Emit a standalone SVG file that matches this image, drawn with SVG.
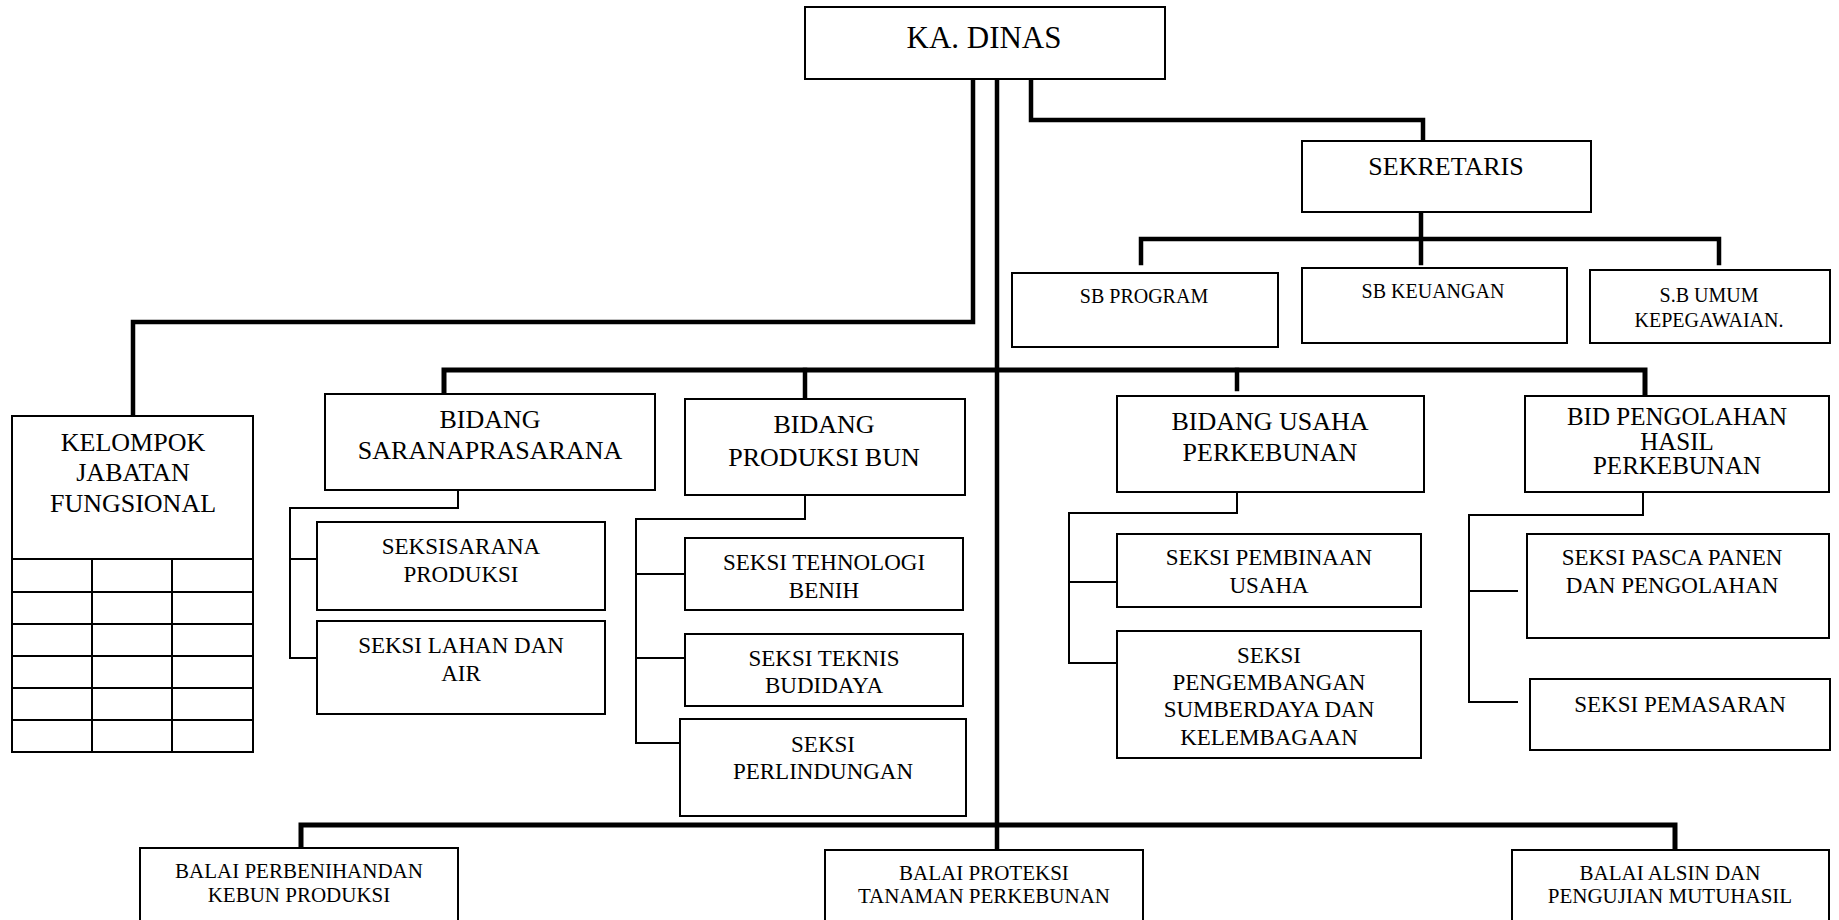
<svg xmlns="http://www.w3.org/2000/svg" width="1839" height="920" viewBox="0 0 1839 920">
<style>
.box{fill:#fff;stroke:#000;stroke-width:2}
.grid{stroke:#000;stroke-width:2;fill:none}
.thick{fill:none;stroke:#000;stroke-width:4.5;stroke-linecap:square}
.bar{fill:none;stroke:#000;stroke-width:5}
.thin{fill:none;stroke:#000;stroke-width:2}
text{font-family:"Times New Roman","Liberation Serif","DejaVu Serif",serif;fill:#000;text-anchor:middle}
.f31{font-size:31px}.f26{font-size:26px}.f25{font-size:25px}.f23{font-size:23px}.f20{font-size:20px}.f21{font-size:21px}
</style>
<rect width="1839" height="920" fill="#fff"/>
<g id="connectors">
<path class="thick" d="M973,79 V322 H133 V416"/>
<path class="thick" d="M997,79 V850"/>
<path class="thick" d="M1031,79 V120 H1423 V141"/>
<path class="thick" d="M1421,212 V263"/>
<path class="thick" d="M1141,263 V239 H1719 V263"/>
<path class="bar" d="M444,394 V370 H1645 V396"/>
<path class="thick" d="M805,370 V399"/>
<path class="thick" d="M1237,370 V389"/>
<path class="bar" d="M301,848 V825 H1675 V850"/>
<path class="thin" d="M458,490 V508 H290 V658 H317 M290,559 H317"/>
<path class="thin" d="M805,495 V519 H636 V743 H686 M636,574 H685 M636,658 H685"/>
<path class="thin" d="M1237,492 V513 H1069 V663 H1117 M1069,582 H1117"/>
<path class="thin" d="M1643,492 V515 H1469 V702 H1518 M1469,591 H1518"/>
</g>
<g id="ka-dinas"><rect class="box" x="805" y="7" width="360" height="72"/><text class="f31" x="984" y="48">KA. DINAS</text></g>
<g id="sekretaris"><rect class="box" x="1302" y="141" width="289" height="71"/><text class="f26" x="1446" y="175">SEKRETARIS</text></g>
<g id="sb-program"><rect class="box" x="1012" y="273" width="266" height="74"/><text class="f20" x="1144" y="303">SB PROGRAM</text></g>
<g id="sb-keuangan"><rect class="box" x="1302" y="268" width="265" height="75"/><text class="f20" x="1433" y="298">SB KEUANGAN</text></g>
<g id="sb-umum"><rect class="box" x="1590" y="270" width="240" height="73"/><text class="f20" x="1709" y="302">S.B UMUM</text><text class="f20" x="1709" y="327">KEPEGAWAIAN.</text></g>
<g id="kelompok">
<rect class="box" x="12" y="416" width="241" height="336"/>
<path class="grid" d="M12,559 H253 M12,592 H253 M12,624 H253 M12,656 H253 M12,688 H253 M12,720 H253 M92,559 V752 M172,559 V752"/>
<text class="f26" x="133" y="451">KELOMPOK</text><text class="f26" x="133" y="481">JABATAN</text><text class="f26" x="133" y="512">FUNGSIONAL</text>
</g>
<g id="bidang-sarana"><rect class="box" x="325" y="394" width="330" height="96"/><text class="f26" x="490" y="428">BIDANG</text><text class="f26" x="490" y="459">SARANAPRASARANA</text></g>
<g id="bidang-produksi"><rect class="box" x="685" y="399" width="280" height="96"/><text class="f26" x="824" y="433">BIDANG</text><text class="f26" x="824" y="466">PRODUKSI BUN</text></g>
<g id="bidang-usaha"><rect class="box" x="1117" y="396" width="307" height="96"/><text class="f26" x="1270" y="430">BIDANG USAHA</text><text class="f26" x="1270" y="461">PERKEBUNAN</text></g>
<g id="bid-pengolahan"><rect class="box" x="1525" y="396" width="304" height="96"/><text class="f25" x="1677" y="425">BID PENGOLAHAN</text><text class="f25" x="1677" y="450">HASIL</text><text class="f25" x="1677" y="474">PERKEBUNAN</text></g>
<g id="seksi-sarana"><rect class="box" x="317" y="522" width="288" height="88"/><text class="f23" x="461" y="554">SEKSISARANA</text><text class="f23" x="461" y="582">PRODUKSI</text></g>
<g id="seksi-lahan"><rect class="box" x="317" y="621" width="288" height="93"/><text class="f23" x="461" y="653">SEKSI LAHAN DAN</text><text class="f23" x="461" y="681">AIR</text></g>
<g id="seksi-tehnologi"><rect class="box" x="685" y="538" width="278" height="72"/><text class="f23" x="824" y="570">SEKSI TEHNOLOGI</text><text class="f23" x="824" y="598">BENIH</text></g>
<g id="seksi-teknis"><rect class="box" x="685" y="634" width="278" height="72"/><text class="f23" x="824" y="666">SEKSI TEKNIS</text><text class="f23" x="824" y="693">BUDIDAYA</text></g>
<g id="seksi-perlindungan"><rect class="box" x="680" y="719" width="286" height="97"/><text class="f23" x="823" y="752">SEKSI</text><text class="f23" x="823" y="779">PERLINDUNGAN</text></g>
<g id="seksi-pembinaan"><rect class="box" x="1117" y="534" width="304" height="73"/><text class="f23" x="1269" y="565">SEKSI PEMBINAAN</text><text class="f23" x="1269" y="593">USAHA</text></g>
<g id="seksi-pengembangan"><rect class="box" x="1117" y="631" width="304" height="127"/><text class="f23" x="1269" y="663">SEKSI</text><text class="f23" x="1269" y="690">PENGEMBANGAN</text><text class="f23" x="1269" y="717">SUMBERDAYA DAN</text><text class="f23" x="1269" y="745">KELEMBAGAAN</text></g>
<g id="seksi-pasca"><rect class="box" x="1527" y="534" width="302" height="104"/><text class="f23" x="1672" y="565">SEKSI PASCA PANEN</text><text class="f23" x="1672" y="593">DAN PENGOLAHAN</text></g>
<g id="seksi-pemasaran"><rect class="box" x="1530" y="679" width="300" height="71"/><text class="f23" x="1680" y="712">SEKSI PEMASARAN</text></g>
<g id="balai-perbenihan"><rect class="box" x="140" y="848" width="318" height="80"/><text class="f21" x="299" y="878">BALAI PERBENIHANDAN</text><text class="f21" x="299" y="902">KEBUN PRODUKSI</text></g>
<g id="balai-proteksi"><rect class="box" x="825" y="850" width="318" height="80"/><text class="f21" x="984" y="880">BALAI PROTEKSI</text><text class="f21" x="984" y="903">TANAMAN PERKEBUNAN</text></g>
<g id="balai-alsin"><rect class="box" x="1512" y="850" width="317" height="80"/><text class="f21" x="1670" y="880">BALAI ALSIN DAN</text><text class="f21" x="1670" y="903">PENGUJIAN MUTUHASIL</text></g>
</svg>
